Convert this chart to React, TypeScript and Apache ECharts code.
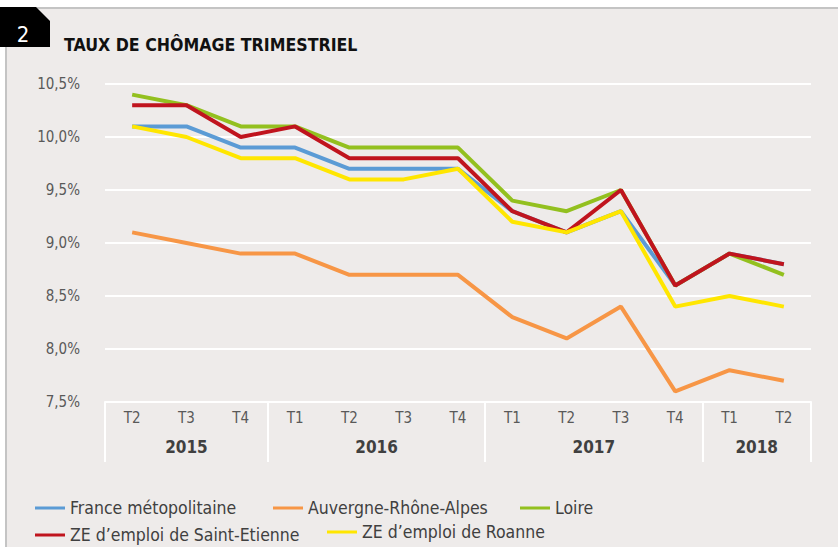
import React, { useEffect, useRef } from "react";
import * as echarts from "echarts";

const quarters = ["T2", "T3", "T4", "T1", "T2", "T3", "T4", "T1", "T2", "T3", "T4", "T1", "T2"];
// year axis: 27 points on a half-quarter grid; years at their group centres
const yearSlots = ["", "", "", "2015", "", "", "", "", "", "", "2016", "", "", "", "", "", "", "", "2017", "", "", "", "", "", "2018", "", ""];
const yearSeparators = [0, 6, 14, 22, 26];

const france = [10.1, 10.1, 9.9, 9.9, 9.7, 9.7, 9.7, 9.3, 9.1, 9.3, 8.6, 8.9, 8.8];
const ara = [9.1, 9.0, 8.9, 8.9, 8.7, 8.7, 8.7, 8.3, 8.1, 8.4, 7.6, 7.8, 7.7];
const loire = [10.4, 10.3, 10.1, 10.1, 9.9, 9.9, 9.9, 9.4, 9.3, 9.5, 8.6, 8.9, 8.7];
const stEtienne = [10.3, 10.3, 10.0, 10.1, 9.8, 9.8, 9.8, 9.3, 9.1, 9.5, 8.6, 8.9, 8.8];
const roanne = [10.1, 10.0, 9.8, 9.8, 9.6, 9.6, 9.7, 9.2, 9.1, 9.3, 8.4, 8.5, 8.4];

const seriesNames = [
  "France métopolitaine",
  "Auvergne-Rhône-Alpes",
  "Loire",
  "ZE d’emploi de Saint-Etienne",
  "ZE d’emploi de Roanne",
];
const seriesData = [france, ara, loire, stEtienne, roanne];
const colors = ["#5b9bd5", "#f79646", "#93c01f", "#c0141e", "#ffe600"];

const FONT = "'DejaVu Sans Condensed', 'DejaVu Sans', sans-serif";

export default function App() {
  const ref = useRef<HTMLDivElement>(null);
  useEffect(() => {
    if (!ref.current) return;
    const chart = echarts.init(ref.current, null, { renderer: "svg" });
    const legendPos = [
      { left: 35, top: 499 },
      { left: 273, top: 499 },
      { left: 520, top: 499 },
      { left: 35, top: 526 },
      { left: 327, top: 523 },
    ];
    chart.setOption({
      animation: false,
      backgroundColor: "#ffffff",
      textStyle: { fontFamily: FONT },
      graphic: [
        {
          type: "rect",
          shape: { x: 6, y: 8, width: 840, height: 545 },
          style: { fill: "#eeebea", stroke: "#c4c4c4", lineWidth: 2 },
          z: -10,
        },
        {
          type: "polygon",
          shape: { points: [[0, 7], [36, 7], [50, 21], [50, 47], [0, 47]] },
          style: { fill: "#000000" },
        },
        {
          type: "text",
          x: 23,
          y: 34,
          style: {
            text: "2",
            fill: "#ffffff",
            font: "normal 22px " + FONT,
            align: "center",
            verticalAlign: "middle",
          },
        },
        {
          type: "text",
          x: 64,
          y: 45,
          style: {
            text: "TAUX DE CHÔMAGE TRIMESTRIEL",
            fill: "#111111",
            font: "bold 17.6px " + FONT,
            verticalAlign: "middle",
          },
        },
      ],
      legend: seriesNames.map((n, i) => ({
        data: [n],
        left: legendPos[i].left,
        top: legendPos[i].top,
        icon: "rect",
        itemWidth: 30,
        itemHeight: 3,
        textStyle: { fontSize: 17.5, color: "#404040", fontFamily: FONT },
        padding: 0,
      })),
      grid: { left: 105, right: 27, top: 84, bottom: 145 },
      xAxis: [
        {
          type: "category",
          data: quarters,
          position: "bottom",
          axisLine: { lineStyle: { color: "#ffffff", width: 2 } },
          axisTick: { show: false },
          axisLabel: { color: "#595959", fontSize: 15, margin: 8, interval: 0, fontFamily: FONT },
        },
        {
          type: "category",
          data: yearSlots,
          boundaryGap: false,
          position: "bottom",
          axisLine: { show: false },
          axisTick: {
            show: true,
            length: 60,
            interval: (idx: number) => yearSeparators.includes(idx),
            lineStyle: { color: "#ffffff", width: 2 },
          },
          axisLabel: {
            color: "#404040",
            fontSize: 17,
            fontWeight: "bold",
            margin: 36,
            interval: 0,
            fontFamily: FONT,
          },
        },
      ],
      yAxis: {
        type: "value",
        min: 7.5,
        max: 10.5,
        interval: 0.5,
        axisLine: { show: false },
        axisTick: { show: false },
        splitLine: { lineStyle: { color: "#ffffff", width: 2 } },
        axisLabel: {
          color: "#595959",
          fontSize: 15,
          margin: 25,
          fontFamily: FONT,
          formatter: (v: number) => v.toFixed(1).replace(".", ",") + "%",
        },
      },
      series: seriesNames.map((n, i) => ({
        name: n,
        type: "line",
        data: seriesData[i],
        xAxisIndex: 0,
        symbol: "none",
        color: colors[i],
        lineStyle: { width: 4, color: colors[i] },
      })),
    });
    return () => chart.dispose();
  }, []);
  return (
    <div
      ref={ref}
      style={{ position: "fixed", left: 0, top: 0, width: 838, height: 547 }}
    />
  );
}
